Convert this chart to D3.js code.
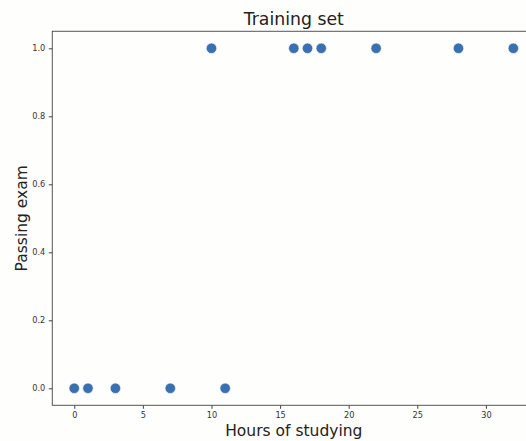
<!DOCTYPE html>
<html><head><meta charset="utf-8">
<script src="https://cdn.jsdelivr.net/npm/d3@7"></script>
<style>
html,body{margin:0;padding:0;background:#fefefc;}
svg{display:block;font-family:"DejaVu Sans",sans-serif;}
</style></head>
<body><svg id="c" width="526" height="441"></svg>
<script>
const hours = [0, 1, 3, 7, 11, 10, 16, 17, 18, 22, 28, 32];
const passed = [0, 0, 0, 0, 0, 1, 1, 1, 1, 1, 1, 1];
const xTicks = [0, 5, 10, 15, 20, 25, 30];
const yTicks = [0.0, 0.2, 0.4, 0.6, 0.8, 1.0];
const titleText = "Training set";
const xLabel = "Hours of studying";
const yLabel = "Passing exam";

const svg = d3.select("#c");
const mL = 52.3, mR = 535.3, mT = 31.3, mB = 405.3;
const x = d3.scaleLinear().domain([-1.6, 33.6]).range([mL, mR]);
const y = d3.scaleLinear().domain([-0.05, 1.05]).range([mB, mT]);

svg.append("rect").attr("width",526).attr("height",441).attr("fill","#fefefc");
svg.append("rect").attr("x",mL).attr("y",mT).attr("width",mR-mL).attr("height",mB-mT)
  .attr("fill","#fefefc").attr("stroke","#555").attr("stroke-width",1);

const xa = svg.append("g").attr("transform",`translate(0,${mB})`)
  .call(d3.axisBottom(x).tickValues(xTicks).tickSize(3.5).tickPadding(3).tickFormat(d3.format("d")));
const ya = svg.append("g").attr("transform",`translate(${mL},0)`)
  .call(d3.axisLeft(y).tickValues(yTicks).tickSize(3.5).tickPadding(3.5).tickFormat(d3.format(".1f")));
[xa, ya].forEach(a => {
  a.select(".domain").remove();
  a.selectAll("line").attr("stroke","#444");
  a.selectAll("text").attr("fill","#333").style("font-size","8.2px").style("font-family","DejaVu Sans");
});

svg.append("g").selectAll("circle").data(hours).join("circle")
  .attr("cx",(d)=>x(d)).attr("cy",(d,i)=>y(passed[i])).attr("r",5.2)
  .attr("fill","#3a70b0").attr("stroke","#fefefc").attr("stroke-width",0.6);

svg.append("text").attr("x",(mL+mR)/2).attr("y",25).attr("text-anchor","middle")
  .style("font-size","17.3px").attr("fill","#222").text(titleText);
svg.append("text").attr("x",(mL+mR)/2).attr("y",436).attr("text-anchor","middle")
  .style("font-size","15.5px").attr("fill","#222").text(xLabel);
svg.append("text").attr("transform",`translate(27,${(mT+mB)/2}) rotate(-90)`).attr("text-anchor","middle")
  .style("font-size","15.5px").attr("fill","#222").text(yLabel);
</script></body></html>
